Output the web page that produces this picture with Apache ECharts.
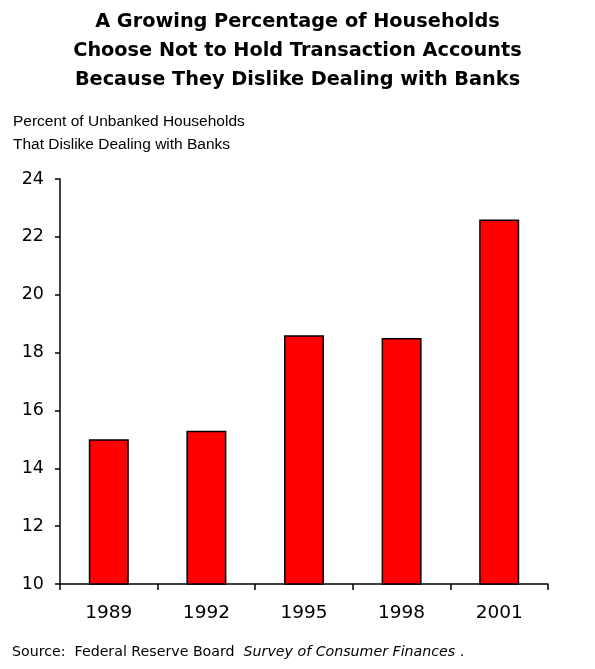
<!DOCTYPE html>
<html><head><meta charset="utf-8">
<script src="https://cdn.jsdelivr.net/npm/echarts@6/dist/echarts.min.js"></script>
<style>html,body{margin:0;padding:0;background:#fff}#c{width:595px;height:669px}</style>
</head><body><div id="c"></div>
<script>
const categories = ['1989', '1992', '1995', '1998', '2001'];
const values = [15.0, 15.3, 18.6, 18.5, 22.6];
const yTicks = [10, 12, 14, 16, 18, 20, 22, 24];
const titleLines = ['A Growing Percentage of Households', 'Choose Not to Hold Transaction Accounts', 'Because They Dislike Dealing with Banks'];
const subtitleLines = ['Percent of Unbanked Households', 'That Dislike Dealing with Banks'];

const chart = echarts.init(document.getElementById('c'));
chart.setOption({
  backgroundColor: '#fff',
  animation: false,
  title: [{
    text: titleLines.join('\n'),
    left: 'center', top: 2,
    textStyle: { fontFamily: 'DejaVu Sans', fontWeight: 'bold', fontSize: 19.3, lineHeight: 29, color: '#000' }
  }, {
    text: subtitleLines.join('\n'),
    left: 8, top: 105,
    textStyle: { fontFamily: 'Liberation Sans, Arial', fontWeight: 'normal', fontSize: 15.5, lineHeight: 23, color: '#000' }
  }],
  grid: { left: 60, right: 47, top: 179, bottom: 85, containLabel: false },
  xAxis: {
    type: 'category', data: categories,
    axisLine: { lineStyle: { color: '#000', width: 1.5 } },
    axisTick: { show: true, length: 6, lineStyle: { color: '#000', width: 1.5 } },
    axisLabel: { fontFamily: 'DejaVu Sans', fontSize: 18.5, color: '#000', margin: 20 }
  },
  yAxis: {
    type: 'value', min: yTicks[0], max: yTicks[yTicks.length - 1], interval: 2,
    axisLine: { show: true, lineStyle: { color: '#000', width: 1.5 } },
    axisTick: { show: true, length: 5, lineStyle: { color: '#000', width: 1.5 } },
    splitLine: { show: false },
    axisLabel: { fontFamily: 'DejaVu Sans', fontSize: 17.5, color: '#000', margin: 16 }
  },
  series: [{
    type: 'bar', data: values, barWidth: 40,
    itemStyle: { color: '#FF0000', borderColor: '#000', borderWidth: 1.5 }
  }],
  graphic: [{
    type: 'text', left: 12, top: 645,
    style: {
      text: '{n|Source:  Federal Reserve Board  }{i|Survey of Consumer Finances}{n| .}',
      rich: {
        n: { fontFamily: 'DejaVu Sans', fontSize: 14.2, fill: '#000' },
        i: { fontFamily: 'DejaVu Sans', fontSize: 14.2, fontStyle: 'italic', fill: '#000' }
      }
    }
  }]
});
</script></body></html>
